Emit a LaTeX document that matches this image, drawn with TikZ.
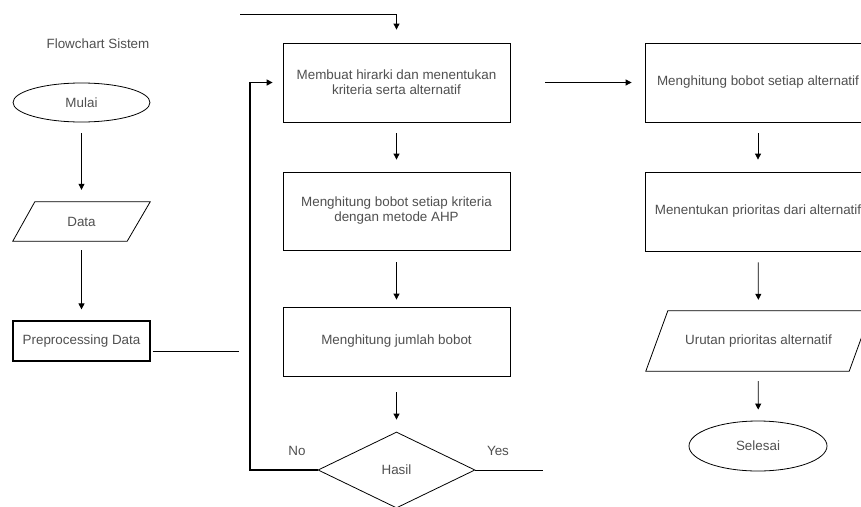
\documentclass[tikz,border=0pt]{standalone}
\usepackage{fontspec}
\setmainfont{Liberation Sans}
\usetikzlibrary{arrows.meta,shapes.geometric,calc}
\definecolor{txtgrey}{RGB}{80,80,80}
\tikzset{
  base/.style={font=\fontsize{13.4}{15}\selectfont, text=txtgrey, inner sep=0pt, align=center},
  procbox/.style={base, draw, line width=0.8pt, rectangle, minimum width=227pt},
  term/.style={base, draw, line width=0.8pt, ellipse},
  decision/.style={base, draw, line width=0.8pt, diamond, minimum width=157pt, minimum height=76pt},
  iobox/.style={base, rectangle},
  conn/.style={line width=0.8pt, -{Triangle[width=6pt,length=6pt]}},
  plainline/.style={line width=0.8pt},
  loopline/.style={line width=1.4pt},
  lbl/.style={base}
}
\begin{document}
\begin{tikzpicture}[x=1pt,y=-1pt]
\useasboundingbox (0,0) rectangle (861,506);
\clip (0,0) rectangle (861,506);
\fill[white] (0,0) rectangle (861,506);

% title
\node[lbl] (title) at (98,44) {Flowchart Sistem};

% left column
\node[term, minimum width=137pt, minimum height=39pt] (mulai) at (81.5,102.5) {Mulai};
\node[iobox, minimum width=137pt, minimum height=39pt] (data) at (81.5,221.5) {Data};
\draw[plainline] ($(data.north west)+(22,0)$) -- (data.north east) -- ($(data.south east)+(-23,0)$) -- (data.south west) -- cycle;
\node[procbox, minimum width=137pt, minimum height=40pt, line width=1.2pt] (prep) at (81.5,341) {Preprocessing Data};

% middle column
\node[procbox, minimum height=79pt] (b1) at (396.5,82.5) {Membuat hirarki dan menentukan\\kriteria serta alternatif};
\node[procbox, minimum height=78pt] (b2) at (396.5,211) {Menghitung bobot setiap kriteria\\dengan metode AHP};
\node[procbox, minimum height=69pt] (b3) at (396.5,341.5) {Menghitung jumlah bobot};
\node[decision] (dec) at (396.5,470) {Hasil};
\node[lbl] (no) at (297,451) {No};
\node[lbl] (yes) at (498,451) {Yes};

% right column
\node[procbox, minimum width=226pt, minimum height=79pt] (rb1) at (758,82.5) {Menghitung bobot setiap alternatif};
\node[procbox, minimum width=226pt, minimum height=79pt] (rb2) at (758,211.5) {Menentukan prioritas dari alternatif};
\node[iobox, minimum width=225pt, minimum height=60pt] (urut) at (758.5,341) {Urutan prioritas alternatif};
\draw[plainline] ($(urut.north west)+(22,0)$) -- (urut.north east) -- ($(urut.south east)+(-22,0)$) -- (urut.south west) -- cycle;
\node[term, minimum width=138pt, minimum height=50pt] (selesai) at (758,446) {Selesai};

% coordinates for free ends
\coordinate (topStart) at (240,14);
\coordinate (prepEnd) at (239,351);
\coordinate (loopX) at (250,0);
\coordinate (yesEnd) at (543,470);

% connectors
\draw[conn, shorten <=11pt, shorten >=12pt] (mulai) -- (data);
\draw[conn, shorten <=9pt, shorten >=11pt] (data) -- (prep);
\draw[plainline, line width=1pt] ($(prepEnd -| prep.east)+(2,0)$) -- (prepEnd);
\draw[conn, shorten >=13pt] (topStart) -| (b1.north);
\draw[loopline, -{Triangle[width=6pt,length=6pt]}, shorten >=10pt] (dec.west) -- (dec.west -| loopX) |- (b1.west);
\draw[conn, shorten <=11pt, shorten >=12pt] (b1) -- (b2);
\draw[conn, shorten <=12pt, shorten >=7pt] (b2) -- (b3);
\draw[conn, shorten <=16pt, shorten >=12pt] (b3) -- (dec);
\draw[plainline] (dec.east) -- (yesEnd);
\draw[conn, shorten <=35pt, shorten >=13pt] (b1.east) -- (rb1.west);
\draw[conn, shorten <=11pt, shorten >=12pt] (rb1) -- (rb2);
\draw[conn, shorten <=11pt, shorten >=11pt] (rb2) -- (urut);
\draw[conn, shorten <=10pt, shorten >=11pt] (urut) -- (selesai);
\end{tikzpicture}
\end{document}
